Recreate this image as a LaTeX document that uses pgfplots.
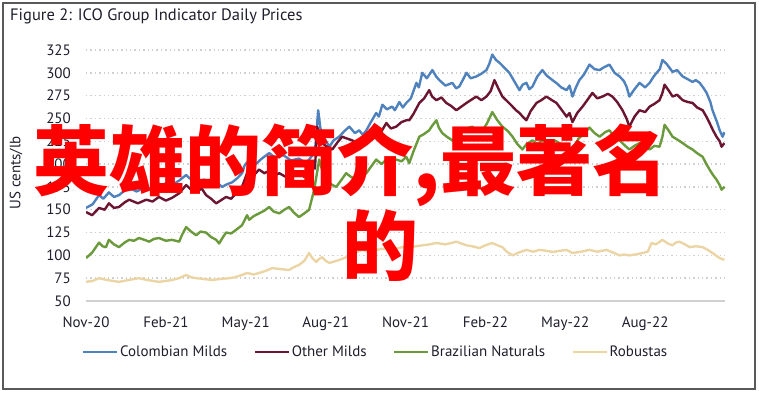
\documentclass[border=0pt]{standalone}
\usepackage{fontspec}
\setmainfont{PT Sans}
\newfontfamily\cjk{Noto Sans CJK SC}
\usepackage{pgfplots}
\pgfplotsset{compat=1.18}
\definecolor{cblue}{HTML}{4F81BD}
\definecolor{cred}{HTML}{6B1530}
\definecolor{cgreen}{HTML}{6A9A3B}
\definecolor{ctan}{HTML}{EBD5A5}
\definecolor{gridc}{HTML}{D0D0D0}
\definecolor{txt}{HTML}{1E1E2C}
\begin{document}
\begin{tikzpicture}
\useasboundingbox (0pt,0pt) rectangle (759pt,393pt);
\draw[line width=1.5pt, black!65] (3pt,4pt) rectangle (755pt,390pt);
\node[anchor=west, font=\fontsize{16.5}{20}\selectfont, text=txt, inner sep=0pt] at (10pt,376.5pt) {Figure 2: ICO Group Indicator Daily Prices};
\begin{axis}[at={(86pt,92pt)}, anchor=south west, scale only axis, width=639pt, height=251pt,
  xmin=0, xmax=24, ymin=50, ymax=325,
  axis x line*=bottom, axis y line*=left,
  x axis line style={gridc, line width=1.2pt, -},
  y axis line style={draw=none},
  major tick length=0pt,
  ytick={50,75,...,325},
  xtick={0,3,...,21},
  xticklabels={Nov-20,Feb-21,May-21,Aug-21,Nov-21,Feb-22,May-22,Aug-22},
  ymajorgrids, grid style={gridc, line width=1.4pt, dash pattern=on 1.4pt off 3pt},
  /pgf/number format/assume math mode=true,
  tick label style={font=\fontsize{15}{18}\selectfont, text=txt},
  yticklabel style={anchor=east, inner sep=0pt, xshift=-15pt},
  xticklabel style={anchor=north, inner sep=0pt, yshift=-16pt},
  ylabel={US cents/lb},
  every axis y label/.style={at={(axis description cs:-0.1095,0.51)}, rotate=90, anchor=center, font=\fontsize{15}{18}\selectfont, text=txt},
  legend columns=4,
  legend style={draw=none, fill=none, at={(axis description cs:0.453,-0.203)}, anchor=center,
    font=\fontsize{15}{18}\selectfont, text=txt,
    nodes={inner sep=1.5pt},
    /tikz/every even column/.append style={column sep=25pt}},
  legend image code/.code={\draw[#1, line width=2.5pt] (0pt,0pt) -- (34pt,0pt);},
  every axis plot/.append style={line width=2.4pt, line join=round},
]
\addplot[cblue] coordinates {(0,152)(0.25,156)(0.49,166)(0.65,162)(0.86,169)(1.05,164)(1.24,166)(1.45,171)(1.62,174)(1.9,170)(2.26,175)(2.5,172)(2.74,175)(3.0,179)(3.23,177)(3.5,182)(3.76,188)(3.95,183)(4.14,180)(4.45,183)(4.74,177)(4.95,179)(5.11,175)(5.3,178)(5.49,180)(5.7,185)(5.86,190)(5.95,198)(6.05,202)(6.3,198)(6.6,206)(6.88,212)(7.1,207)(7.4,210)(7.7,204)(8.0,206)(8.27,201)(8.46,208)(8.6,214)(8.72,259)(8.8,240)(8.87,230)(9.0,226)(9.14,219)(9.3,226)(9.51,230)(9.7,236)(9.89,241)(10.1,234)(10.26,237)(10.4,232)(10.53,237)(10.7,246)(10.90,256)(11.0,252)(11.13,265)(11.3,260)(11.50,263)(11.6,259)(11.77,268)(11.9,262)(12.03,267)(12.2,272)(12.41,289)(12.5,284)(12.63,300)(12.8,294)(13.01,303)(13.15,296)(13.27,292)(13.5,286)(13.76,289)(13.9,283)(14.02,285)(14.15,292)(14.29,300)(14.45,294)(14.66,296)(14.85,299)(15.04,303)(15.15,310)(15.26,320)(15.4,314)(15.53,311)(15.7,306)(15.90,300)(16.1,290)(16.28,281)(16.4,287)(16.54,289)(16.65,282)(16.77,285)(16.95,296)(17.14,303)(17.3,297)(17.52,292)(17.7,288)(17.85,284)(18.05,281)(18.16,286)(18.27,274)(18.4,284)(18.53,292)(18.7,298)(18.91,309)(19.1,304)(19.29,303)(19.45,306)(19.66,309)(19.85,300)(20.04,296)(20.2,291)(20.30,285)(20.41,274)(20.6,282)(20.79,289)(21.0,284)(21.17,289)(21.3,295)(21.43,300)(21.55,304)(21.65,314)(21.8,310)(22.03,301)(22.2,303)(22.41,296)(22.6,293)(22.78,290)(22.9,292)(23.05,289)(23.2,283)(23.31,278)(23.45,268)(23.53,259)(23.7,246)(23.80,237)(23.91,230)(23.98,235)};
\addlegendentry{Colombian Milds}
\addplot[cred] coordinates {(0,147.5)(0.23,144)(0.49,152)(0.7,150)(0.86,157)(1.05,152)(1.24,153)(1.45,158)(1.62,161)(1.95,157)(2.26,161)(2.5,159)(2.74,164)(3.0,160)(3.23,163)(3.5,168)(3.76,177)(3.95,172)(4.14,170)(4.35,173)(4.51,166)(4.7,162)(4.89,157)(5.05,160)(5.26,164)(5.45,162)(5.64,168)(5.86,175)(6.05,190)(6.25,186)(6.5,194)(6.7,190)(6.9,193)(7.1,188)(7.26,190)(7.5,186)(7.75,192)(8.0,190)(8.2,186)(8.46,197)(8.6,195)(8.68,241)(8.8,230)(8.87,223)(9.05,219)(9.25,216)(9.45,224)(9.62,230)(9.8,228)(10.0,226)(10.25,222)(10.53,226)(10.7,233)(10.9,241)(11.1,236)(11.28,245)(11.45,239)(11.65,241)(11.85,246)(12.03,248)(12.14,248)(12.3,255)(12.52,267)(12.7,272)(12.89,281)(13.0,274)(13.16,270)(13.35,273)(13.53,267)(13.7,264)(13.91,259)(14.1,263)(14.29,267)(14.5,271)(14.66,274)(14.85,270)(15.04,274)(15.2,280)(15.34,292)(15.5,282)(15.64,274)(15.85,268)(16.02,263)(16.15,259)(16.28,256)(16.4,252)(16.54,248)(16.7,258)(16.92,267)(17.1,270)(17.29,274)(17.5,270)(17.67,267)(17.85,260)(18.05,252)(18.16,256)(18.27,246)(18.45,256)(18.65,263)(18.85,271)(19.02,278)(19.2,272)(19.40,274)(19.6,277)(19.77,274)(19.95,268)(20.15,259)(20.3,250)(20.41,241)(20.6,252)(20.79,259)(21.0,257)(21.17,263)(21.35,266)(21.54,270)(21.65,278)(21.73,287)(21.9,280)(22.03,274)(22.2,276)(22.41,270)(22.6,268)(22.78,267)(22.95,262)(23.16,259)(23.3,252)(23.42,245)(23.55,237)(23.68,230)(23.8,225)(23.87,219)(23.98,223)};
\addlegendentry{Other Milds}
\addplot[cgreen] coordinates {(0,97)(0.23,103)(0.49,114)(0.62,110)(0.75,109)(0.86,117)(1.05,112)(1.24,109)(1.45,114)(1.62,117)(1.8,116)(1.99,119)(2.2,117)(2.37,115)(2.55,118)(2.74,119)(3.0,116)(3.23,117)(3.5,115)(3.6,122)(3.76,131)(3.95,126)(4.14,122)(4.3,126)(4.51,125)(4.7,120)(4.89,117)(5.0,113)(5.1,118)(5.26,125)(5.45,124)(5.64,128)(5.86,133)(6.05,144)(6.13,139)(6.3,143)(6.5,146)(6.7,149)(6.88,153)(7.05,148)(7.26,146)(7.45,150)(7.63,153)(7.8,147)(8.0,142)(8.2,146)(8.38,150)(8.57,172)(8.76,205)(8.9,190)(9.02,183)(9.2,178)(9.4,175)(9.6,183)(9.77,190)(9.95,186)(10.15,183)(10.35,187)(10.53,190)(10.7,197)(10.9,205)(11.1,200)(11.28,205)(11.45,201)(11.65,205)(11.85,203)(12.03,208)(12.14,201)(12.3,214)(12.52,230)(12.7,233)(12.89,237)(13.0,242)(13.16,248)(13.25,240)(13.38,234)(13.55,230)(13.76,226)(13.95,232)(14.14,237)(14.3,239)(14.51,241)(14.7,236)(14.89,237)(15.05,244)(15.26,257)(15.45,248)(15.64,241)(15.85,236)(16.02,230)(16.2,222)(16.39,216)(16.55,222)(16.77,226)(16.95,222)(17.14,226)(17.4,221)(17.6,226)(17.78,223)(18.0,219)(18.27,216)(18.5,228)(18.7,233)(18.91,240)(19.1,234)(19.29,230)(19.5,235)(19.66,237)(19.85,230)(20.04,226)(20.25,220)(20.41,216)(20.6,220)(20.79,223)(21.0,219)(21.17,216)(21.35,220)(21.54,219)(21.65,230)(21.73,243)(21.9,236)(22.03,230)(22.2,227)(22.41,223)(22.6,219)(22.78,216)(22.95,212)(23.16,208)(23.3,200)(23.42,194)(23.55,188)(23.68,183)(23.8,177)(23.87,172)(23.98,175)};
\addlegendentry{Brazilian Naturals}
\addplot[ctan] coordinates {(0,71)(0.25,72)(0.49,75)(0.8,73)(1.0,72)(1.24,71)(1.6,73)(1.99,75)(2.3,73)(2.74,71)(3.0,72)(3.23,73)(3.5,75)(3.76,78.5)(3.95,76)(4.14,75)(4.45,74)(4.74,73)(5.0,74)(5.38,75)(5.6,76)(5.86,78.5)(6.05,80.7)(6.3,79)(6.5,80.7)(6.75,83)(6.99,86)(7.3,85)(7.63,84)(7.8,87)(8.0,89.5)(8.2,94)(8.38,102.6)(8.5,97)(8.65,92.8)(8.75,96)(8.87,98)(9.0,94)(9.14,91.7)(9.3,93)(9.51,95)(9.7,97)(9.89,100)(10.1,103)(10.38,106)(10.6,104)(10.9,106)(11.1,107)(11.39,108)(11.6,107)(11.88,109)(12.14,109)(12.4,110)(12.63,111)(12.9,112)(13.16,113.6)(13.5,112)(13.91,115)(14.1,113)(14.29,111)(14.5,110)(14.77,108)(15.0,111)(15.26,113.6)(15.45,111)(15.64,109)(15.8,104)(16.02,100)(16.25,103)(16.54,106)(16.8,104)(17.03,106)(17.3,105)(17.52,103.7)(17.8,105)(18.05,106)(18.27,102.6)(18.6,104)(18.91,106)(19.2,104)(19.55,106)(19.8,103)(20.04,100)(20.2,101)(20.41,100)(20.65,101)(20.9,102.6)(21.1,104)(21.24,113.6)(21.4,112)(21.65,117)(21.85,113)(22.03,111)(22.15,114)(22.29,115)(22.5,112)(22.67,109)(22.9,110)(23.16,109)(23.35,106)(23.53,102.6)(23.65,100)(23.8,97)(23.98,95)};
\addlegendentry{Robustas}
\end{axis}
\node[text=red, font=\cjk\bfseries\fontsize{76}{80}\selectfont, inner sep=0pt] at (351pt,228pt) {英雄的简介,最著名};
\node[text=red, font=\cjk\bfseries\fontsize{76}{80}\selectfont, inner sep=0pt] at (380pt,147pt) {的};
\end{tikzpicture}
\end{document}
